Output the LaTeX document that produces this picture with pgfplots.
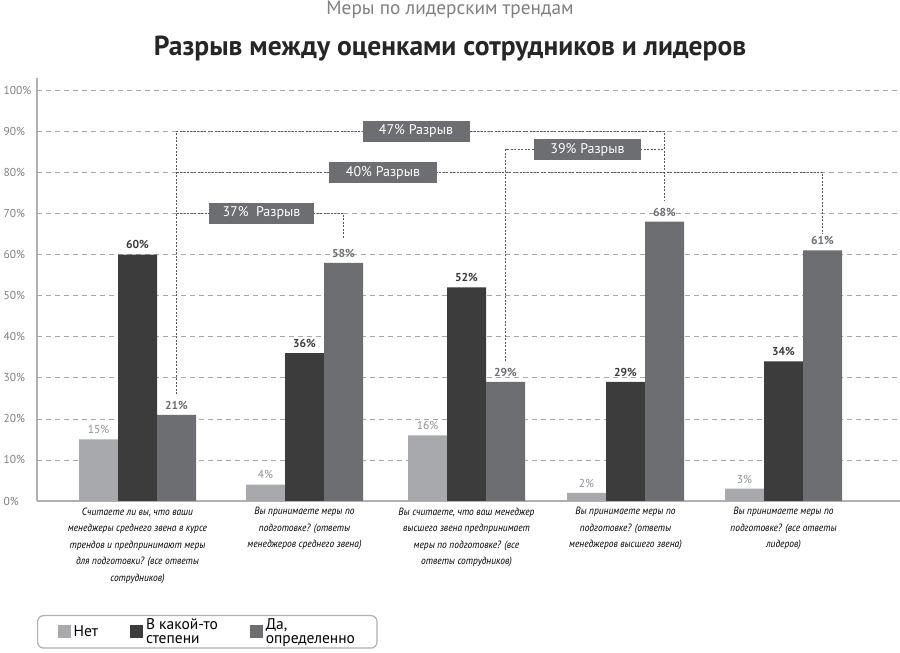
\documentclass[border=0pt]{standalone}
\usepackage{pgfplots}
\pgfplotsset{compat=1.18}
\usepackage{fontspec}
\setmainfont{PT Sans}
\definecolor{cLight}{HTML}{A7A9AC}
\definecolor{cDark}{HTML}{3C3C3C}
\definecolor{cMed}{HTML}{6D6E71}
\definecolor{cAxis}{HTML}{B0B0B0}
\definecolor{cGrid}{HTML}{A8A8A8}
\begin{document}
\begin{tikzpicture}[x=1pt,y=1pt]
\useasboundingbox (0,0) rectangle (900,653);
\node[font=\fontsize{19.3}{21}\selectfont, text=gray] at (450,643) {Меры по лидерским трендам};
\node[font=\fontsize{27.5}{30}\selectfont\bfseries, text=black!85] at (450,604) {Разрыв между оценками сотрудников и лидеров};
\begin{axis}[
  at={(37pt,152pt)}, anchor=south west, scale only axis,
  width=863pt, height=423pt,
  xmin=37, xmax=900, ymin=0, ymax=103,
  axis x line*=bottom, axis y line*=left,
  axis line style={-, cAxis, line width=1.2pt},
  major tick length=0pt,
  /pgf/number format/assume math mode=true,
  ytick={0,10,...,100},
  yticklabels={0\%,10\%,20\%,30\%,40\%,50\%,60\%,70\%,80\%,90\%,100\%},
  yticklabel style={anchor=west, xshift=-37pt, font=\fontsize{11.5}{13}\selectfont, text=gray},
  ymajorgrids, grid style={cGrid, line width=0.7pt, dash pattern=on 5pt off 4pt},
  xtick={137.5,304.5,466.5,625.5,783.5},
  xticklabels={
    {Считаете ли вы, что ваши\\менеджеры среднего звена в курсе\\трендов и предпринимают меры\\для подготовки? (все ответы\\сотрудников)},
    {Вы принимаете меры по\\подготовке? (ответы\\менеджеров среднего звена)},
    {Вы считаете, что ваш менеджер\\высшего звена предпринимает\\меры по подготовке? (все\\ответы сотрудников)},
    {Вы принимаете меры по\\подготовке? (ответы\\менеджеров высшего звена)},
    {Вы принимаете меры по\\подготовке? (все ответы\\лидеров)}},
  xticklabel style={align=center, anchor=north, yshift=-3pt, font=\fontsize{10.5}{16.5}\selectfont\itshape\addfontfeatures{FakeStretch=0.9}},
  ybar, bar width=39,
  nodes near coords={\pgfmathprintnumber[assume math mode=true]{\pgfplotspointmeta}\%},
  nodes near coords style={anchor=south, yshift=2pt, font=\fontsize{11.5}{13}\selectfont\bfseries},
  legend image code/.code={\fill[#1, sharp corners] (0pt,-6pt) rectangle (13pt,7pt);},
  legend style={at={(axis description cs:0,-0.2695)}, anchor=north west,
    draw=cAxis, line width=1.2pt, rounded corners=6pt,
    font=\fontsize{15.5}{14}\selectfont, legend columns=3,
    cells={align=left, anchor=west}, inner xsep=20pt, inner ysep=1pt,
    /tikz/every odd column/.append style={column sep=1pt},
    /tikz/every even column/.append style={column sep=30pt}},
]
\addplot[fill=cLight, draw=none, bar shift=0pt, nodes near coords style={text=cLight!85!black, font=\fontsize{11.5}{13}\selectfont}]
  coordinates {(98.5,15) (265.5,4) (427.5,16) (586.5,2) (744.5,3)};
\addplot[fill=cDark, draw=none, bar shift=0pt, nodes near coords style={text=cDark}]
  coordinates {(137.5,60) (304.5,36) (466.5,52) (625.5,29) (783.5,34)};
\addplot[fill=cMed, draw=none, bar shift=0pt, nodes near coords style={text=cMed}]
  coordinates {(176.5,21) (343.5,58) (505.5,29) (664.5,68) (822.5,61)};
\legend{Нет, {В какой-то\\степени}, {Да,\\определенно}}
% gap annotations
\begin{scope}[cDark!85, line width=0.9pt, dash pattern=on 2pt off 1.5pt]
\draw (axis cs:176.5,26) -- (axis cs:176.5,90) -- (axis cs:664.5,90) -- (axis cs:664.5,73);
\draw (axis cs:176.5,80) -- (axis cs:822.5,80) -- (axis cs:822.5,65);
\draw (axis cs:176.5,70) -- (axis cs:343.5,70) -- (axis cs:343.5,64);
\draw (axis cs:505.5,34) -- (axis cs:505.5,85.6) -- (axis cs:664.5,85.6);
\end{scope}
\tikzset{gap/.style={fill=cMed, text=white, font=\fontsize{14}{15}\selectfont, minimum height=21pt, inner xsep=6pt}}
\node[gap, minimum width=107pt] at (axis cs:416,90) {47\% Разрыв};
\node[gap, minimum width=108pt] at (axis cs:383,80) {40\% Разрыв};
\node[gap, minimum width=105pt] at (axis cs:261.5,70.1) {37\%\ \ Разрыв};
\node[gap, minimum width=107pt] at (axis cs:587.5,85.6) {39\% Разрыв};
\end{axis}
\end{tikzpicture}
\end{document}
